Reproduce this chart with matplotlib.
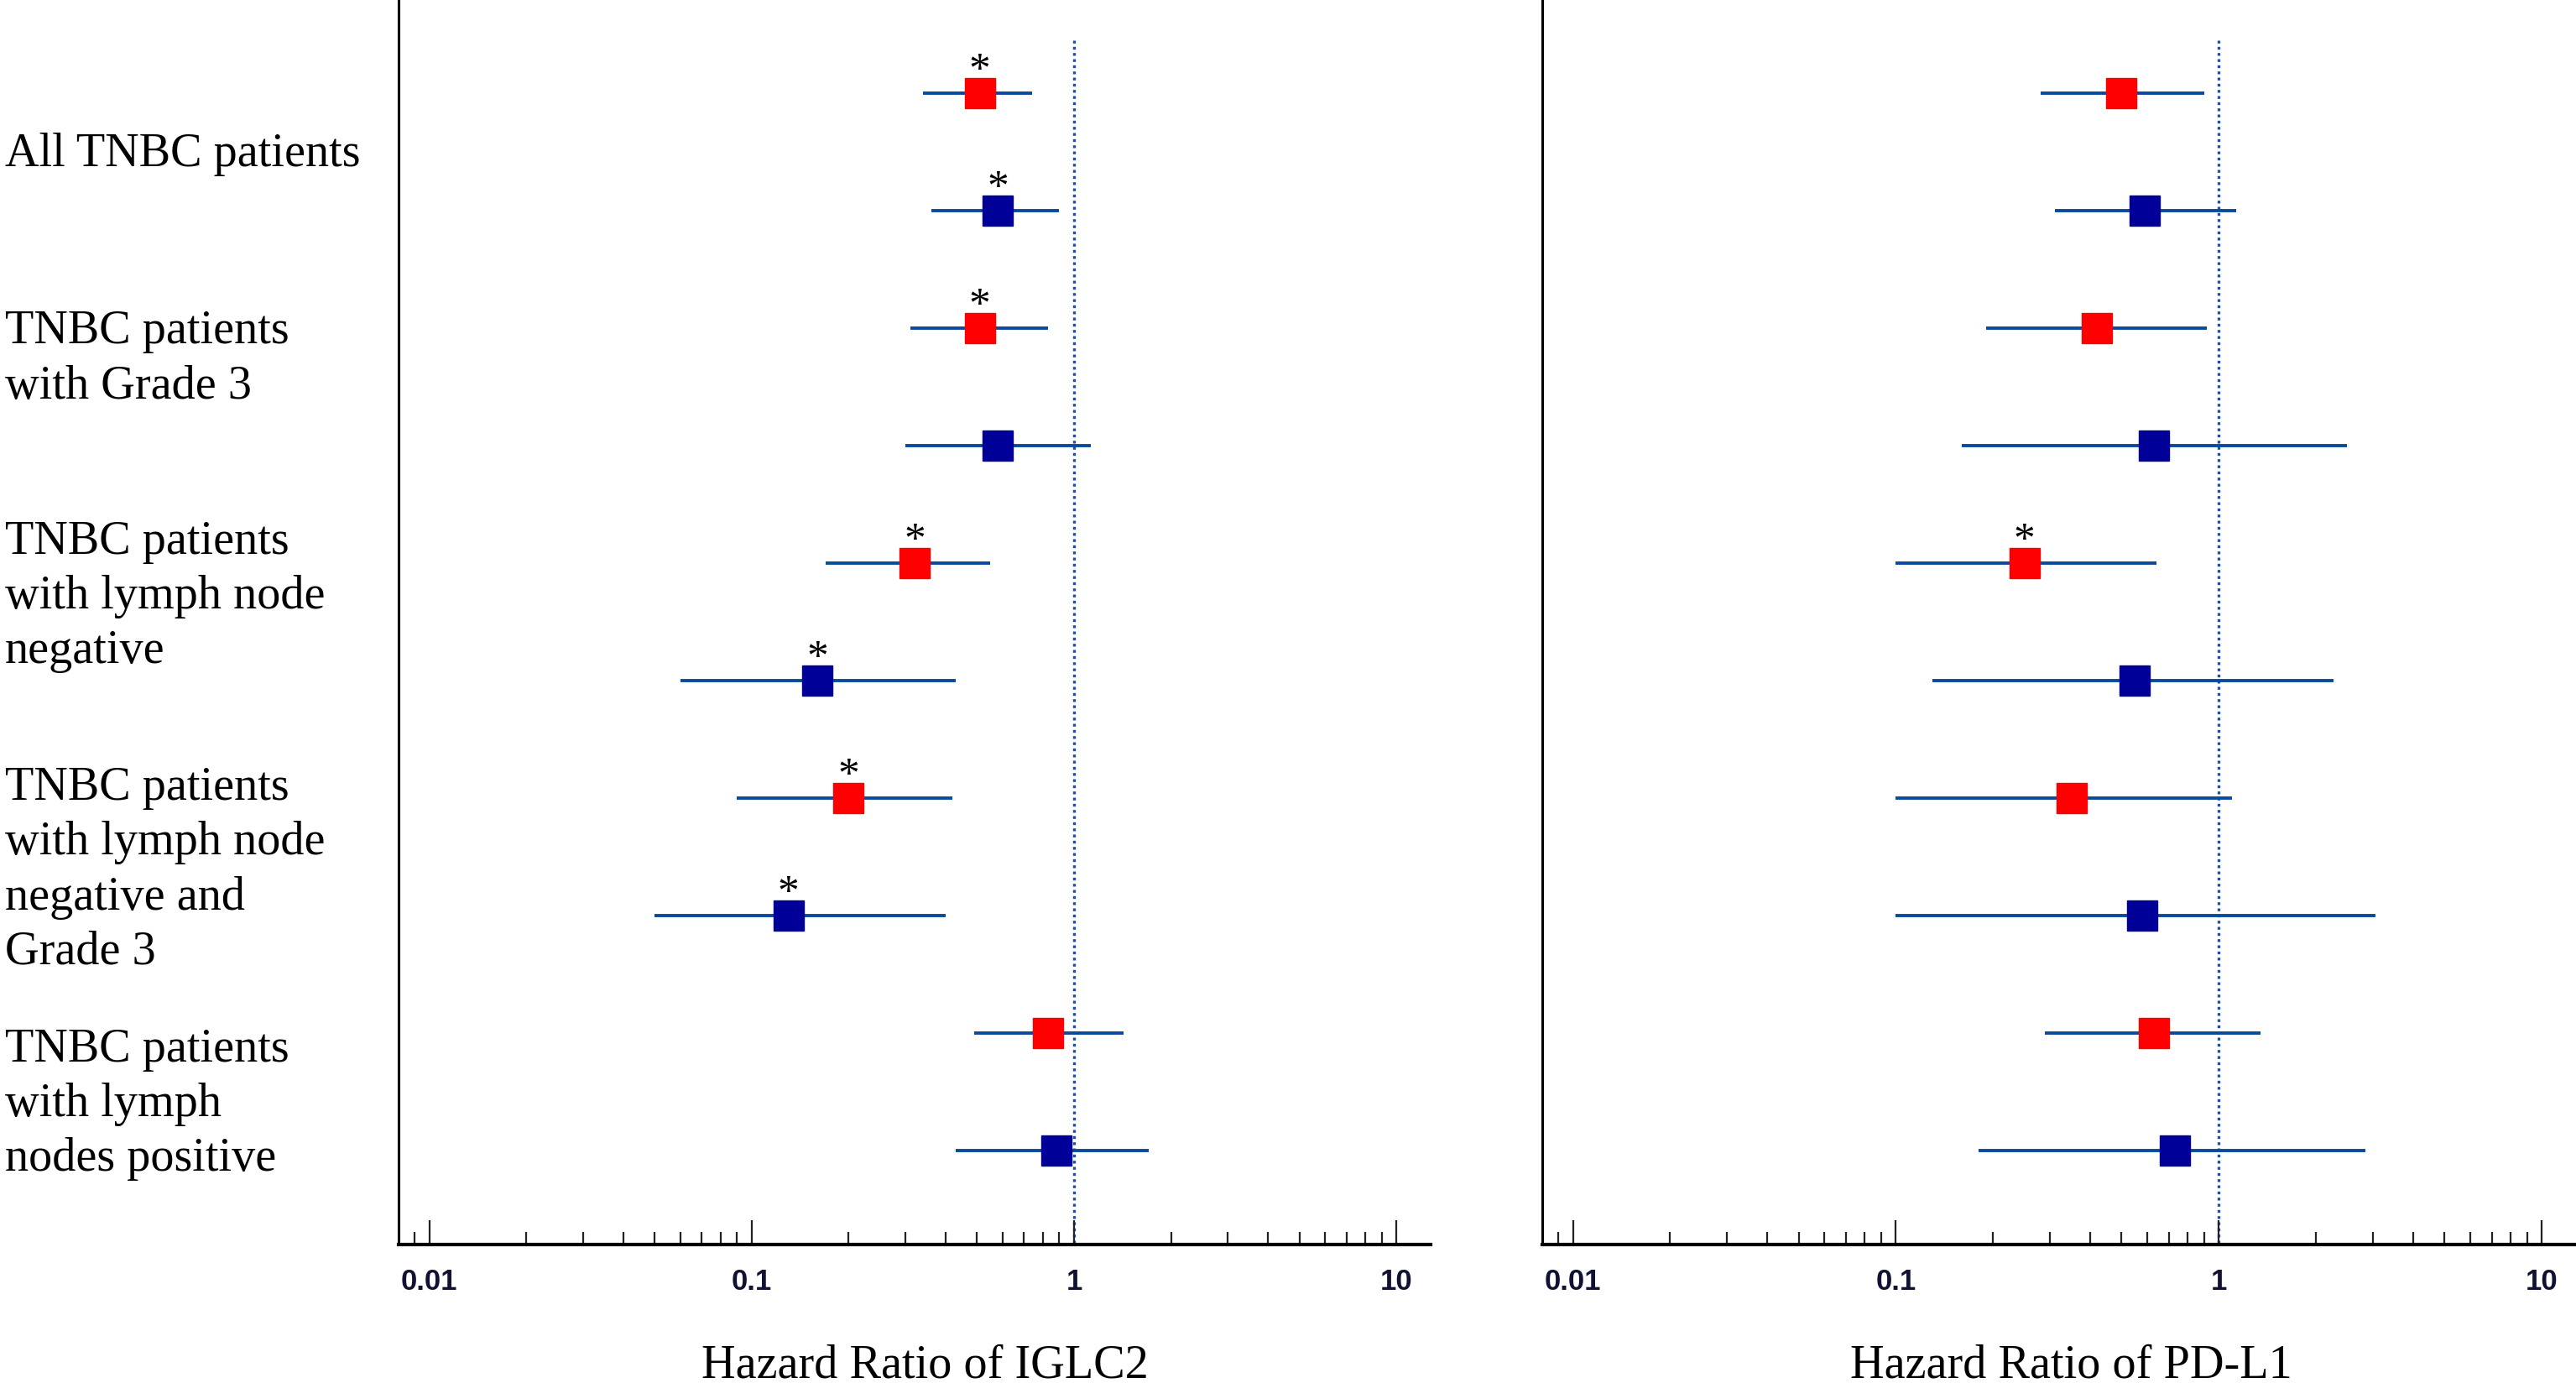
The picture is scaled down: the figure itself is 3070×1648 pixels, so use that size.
import numpy as np
import matplotlib.pyplot as plt
from matplotlib.ticker import LogLocator, NullFormatter, FixedLocator, FixedFormatter

# subgroup labels (left side)
groups = ["All TNBC patients",
          "TNBC patients\nwith Grade 3",
          "TNBC patients\nwith lymph node\nnegative",
          "TNBC patients\nwith lymph node\nnegative and\nGrade 3",
          "TNBC patients\nwith lymph\nnodes positive"]
group_y_px = [184, 428, 711, 1037, 1316]

# row colours: red / blue alternate (two analyses per subgroup)
row_colors = ["#ff0000", "#000099"] * 5

# IGLC2 hazard ratios with 95% CI
iglc2_hr = [0.51, 0.58, 0.51, 0.58, 0.32, 0.16, 0.20, 0.13, 0.83, 0.88]
iglc2_lo = [0.34, 0.36, 0.31, 0.30, 0.17, 0.06, 0.09, 0.05, 0.49, 0.43]
iglc2_hi = [0.74, 0.90, 0.83, 1.13, 0.55, 0.43, 0.42, 0.40, 1.42, 1.70]
iglc2_sig = [1, 1, 1, 0, 1, 1, 1, 1, 0, 0]

# PD-L1 hazard ratios with 95% CI
pdl1_hr = [0.50, 0.59, 0.42, 0.63, 0.25, 0.55, 0.35, 0.58, 0.63, 0.73]
pdl1_lo = [0.28, 0.31, 0.19, 0.16, 0.10, 0.13, 0.10, 0.10, 0.29, 0.18]
pdl1_hi = [0.90, 1.13, 0.92, 2.49, 0.64, 2.27, 1.10, 3.05, 1.35, 2.84]
pdl1_sig = [0, 0, 0, 0, 1, 0, 0, 0, 0, 0]

W, H = 3070, 1648
fig = plt.figure(figsize=(W / 100, H / 100), dpi=100)

serif = "Liberation Serif"
ci_color = "#0a4a9c"


def forest(ax, hr, lo, hi, sig, xlabel, xlabel_x):
    rows = np.arange(len(hr))
    for i in rows:
        ax.plot([lo[i], hi[i]], [i, i], color=ci_color, lw=2.8,
                solid_capstyle="butt", zorder=2)
        ax.plot(hr[i], i, marker="s", ms=26, color=row_colors[i],
                mec=row_colors[i], ls="none", zorder=3)
        if sig[i]:
            ax.text(hr[i], i - 0.1, "*", ha="center", va="baseline",
                    fontsize=37, family=serif, zorder=4)
    ax.plot([1, 1], [-0.45, 9.8], color="#1f4fa0", lw=2.4,
            ls=(0, (1, 1.2)), zorder=1)
    ax.set_xscale("log")
    ax.set_xlim(10 ** -2.095, 10 ** 1.106)
    ax.set_ylim(9.80, -0.79)
    ax.set_yticks([])
    for s in ["top", "right"]:
        ax.spines[s].set_visible(False)
    ax.spines["left"].set_linewidth(2.2)
    ax.spines["bottom"].set_linewidth(3)
    ax.xaxis.set_major_locator(FixedLocator([0.01, 0.1, 1, 10]))
    ax.xaxis.set_major_formatter(FixedFormatter(["0.01", "0.1", "1", "10"]))
    ax.xaxis.set_minor_locator(LogLocator(base=10, subs=np.arange(2, 10)))
    ax.xaxis.set_minor_formatter(NullFormatter())
    ax.tick_params(axis="x", which="major", direction="in", length=21,
                   width=1.6, color="#222222", pad=20, labelsize=25,
                   labelcolor="#111133")
    ax.tick_params(axis="x", which="minor", direction="in", length=11,
                   width=1.6, color="#222222")
    for lab in ax.get_xticklabels():
        lab.set_family("Liberation Sans")
        lab.set_fontweight("bold")
    fig.text(xlabel_x / W, 1 - 1627 / H, xlabel, ha="center", va="center",
             fontsize=40.5, family=serif)


ax1 = fig.add_axes([475 / W, 1 - 1483 / H, (1705 - 475) / W, 1483 / H])
ax2 = fig.add_axes([1838 / W, 1 - 1483 / H, (3070 - 1838) / W, 1483 / H])
forest(ax1, iglc2_hr, iglc2_lo, iglc2_hi, iglc2_sig, "Hazard Ratio of IGLC2", 1102)
forest(ax2, pdl1_hr, pdl1_lo, pdl1_hi, pdl1_sig, "Hazard Ratio of PD-L1", 2468)

for label, py in zip(groups, group_y_px):
    fig.text(6 / W, 1 - py / H, label, ha="left", va="center",
             fontsize=40.5, family=serif, linespacing=1.33)

fig.savefig("out.png", dpi=100)
